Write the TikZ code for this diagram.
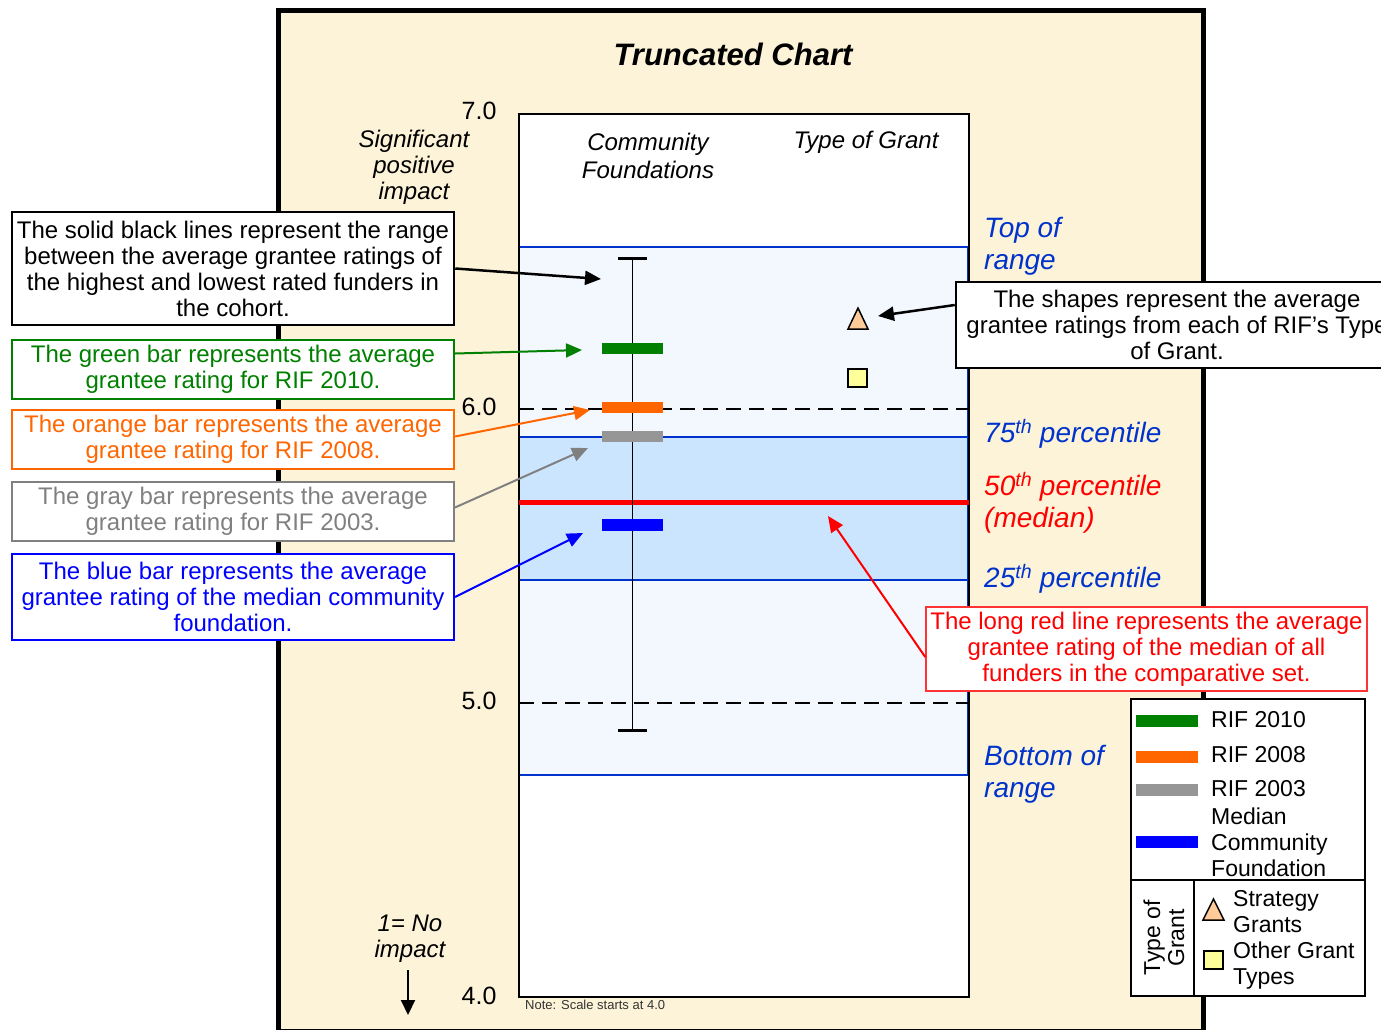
\documentclass[tikz,border=0pt]{standalone}
\usepackage{fontspec}
\setmainfont{Liberation Sans}
\usetikzlibrary{arrows.meta,shapes.geometric}
\definecolor{cream}{RGB}{253,243,216}
\definecolor{bandpale}{RGB}{243,248,255}
\definecolor{bandmid}{RGB}{204,229,255}
\definecolor{bandline}{RGB}{0,51,204}
\definecolor{rifgreen}{RGB}{0,128,0}
\definecolor{riforange}{RGB}{255,102,0}
\definecolor{rifgray}{RGB}{150,150,150}
\definecolor{txtgray}{RGB}{128,128,128}
\definecolor{peach}{RGB}{255,204,153}
\definecolor{paleyellow}{RGB}{255,255,153}
\begin{document}
\begin{tikzpicture}[x=1pt, y=-1pt, >={Triangle[length=16pt,width=14pt]}]
    \tikzstyle{callout} = [rectangle, draw, fill=white, line width=2pt, align=center, inner sep=0pt, minimum width=442pt, font=\fontsize{24}{26}\selectfont]
    \tikzstyle{tick} = [anchor=east, font=\fontsize{25}{28}\selectfont]
    \tikzstyle{sidelabel} = [anchor=west, align=left, inner sep=0pt, font=\itshape\fontsize{28}{32}\selectfont]
    \tikzstyle{legtext} = [anchor=west, align=left, inner sep=0pt, font=\fontsize{23}{26}\selectfont]

    \clip (0,0) rectangle (1381,1029);
    \fill [white] (0,0) rectangle (1381,1029);
    \draw [line width=5pt, fill=cream] (278.5,10.5) rectangle (1203.5,1031);
    \node [font=\bfseries\itshape\fontsize{31}{36}\selectfont] (title) at (733,54) {Truncated Chart};

    % plot area and bands
    \fill [white] (519,114) rectangle (969,997);
    \filldraw [fill=bandpale, draw=bandline, line width=1.5pt] (519,247) rectangle (968,775);
    \filldraw [fill=bandmid, draw=bandline, line width=1.5pt] (519,437) rectangle (968,580);
    \draw [dash pattern=on 15pt off 8pt, line width=2pt] (519,409) -- (969,409);
    \draw [dash pattern=on 15pt off 8pt, line width=2pt] (519,703) -- (969,703);
    \draw [line width=2.5pt] (519,114) -- (519,997) -- (969,997) -- (969,114) -- cycle;
    \draw [white, line width=1pt, dash pattern=on 4pt off 16pt] (530,116) -- (969,116);
    \draw [red, line width=5pt] (519,502) -- (969,502);

    % range and bars
    \draw [line width=1.5pt] (632.5,258) -- (632.5,730);
    \draw [line width=3pt] (618,258) -- (647,258);
    \draw [line width=3pt] (618,730) -- (647,730);
    \fill [rifgreen] (602,343) rectangle (663,354);
    \fill [riforange] (602,402) rectangle (663,413);
    \fill [rifgray] (602,431) rectangle (663,442);
    \fill [blue] (602,519) rectangle (663,531);
    \filldraw [fill=peach, line width=1.5pt] (858,308) -- (868,329) -- (848,329) -- cycle;
    \filldraw [fill=paleyellow, line width=1.5pt] (848,369) rectangle (867,387);

    % axis text
    \node [tick] (t7) at (500,111) {7.0};
    \node [tick] (t6) at (500,407) {6.0};
    \node [tick] (t5) at (500,701) {5.0};
    \node [tick] (t4) at (500,996) {4.0};
    \node [align=center, font=\itshape\fontsize{24}{26}\selectfont] (sig) at (414,167) {Significant\\positive\\impact};
    \node [align=center, font=\itshape\fontsize{24}{26}\selectfont] (noimp) at (410,939) {1= No\\impact};
    \coordinate (noimptip) at (408,1015);
    \draw [->, line width=2pt, >={Triangle[length=15pt,width=14pt]}] (noimp.south) ++(-2,4) -- (noimptip);
    \node [align=center, font=\itshape\fontsize{24}{28}\selectfont] (cf) at (648,156) {Community\\Foundations};
    \node [font=\itshape\fontsize{24}{28}\selectfont] (tg) at (866,142) {Type of Grant};
    \node [anchor=west, inner sep=0pt, text=black!80, font=\fontsize{13}{15}\selectfont] (note) at (525,1005) {Note: Scale starts at 4.0};

    % side labels
    \node [sidelabel, text=bandline] (top) at (984,246) {Top of\\range};
    \node [sidelabel, text=bandline] (p75) at (984,434) {75\textsuperscript{th} percentile};
    \node [sidelabel, text=red] (p50) at (984,503) {50\textsuperscript{th} percentile\\(median)};
    \node [sidelabel, text=bandline] (p25) at (984,579) {25\textsuperscript{th} percentile};
    \node [sidelabel, text=bandline] (bot) at (984,774) {Bottom of\\range};

    % callouts on the left
    \node [callout, minimum height=113pt, line width=2.5pt] (c1) at (233,268.5) {The solid black lines represent the range\\between the average grantee ratings of\\the highest and lowest rated funders in\\the cohort.};
    \node [callout, minimum height=59pt, draw=rifgreen, text=rifgreen] (c2) at (233,369.5) {The green bar represents the average\\grantee rating for RIF 2010.};
    \node [callout, minimum height=59pt, draw=riforange, text=riforange] (c3) at (233,439.5) {The orange bar represents the average\\grantee rating for RIF 2008.};
    \node [callout, minimum height=59pt, draw=txtgray, text=txtgray] (c4) at (233,511.5) {The gray bar represents the average\\grantee rating for RIF 2003.};
    \node [callout, minimum height=86pt, draw=blue, text=blue] (c5) at (233,597) {The blue bar represents the average\\grantee rating of the median community\\foundation.};

    % callouts on the right
    \node [callout, minimum height=86pt, line width=2.5pt] (cs) at (1177,325) {The shapes represent the average\\grantee ratings from each of RIF’s Type\\of Grant.};
    \node [callout, minimum width=441pt, minimum height=84pt, line width=1.5pt, draw=red!80, text=red] (cr) at (1146.5,649) {The long red line represents the average\\grantee rating of the median of all\\funders in the comparative set.};

    % arrow tips
    \coordinate (a1) at (601,279);
    \coordinate (a2) at (582,350);
    \coordinate (a3) at (590,410);
    \coordinate (a4) at (588,448);
    \coordinate (a5) at (583,533);
    \coordinate (as) at (878,316);
    \coordinate (ar) at (828,516);

    \draw [->, line width=2.5pt] (c1.east) -- (a1);
    \draw [->, line width=2pt, rifgreen] ([yshift=16pt]c2.east) -- (a2);
    \draw [->, line width=2pt, riforange] ([yshift=3pt]c3.east) -- (a3);
    \draw [->, line width=2pt, txtgray] ([yshift=4pt]c4.east) -- (a4);
    \draw [->, line width=2pt, blue] (c5.east) -- (a5);
    \draw [->, line width=2.5pt] ([yshift=20pt]cs.west) -- (as);
    \draw [->, line width=2pt, red] ([yshift=-8pt]cr.west) -- (ar);

    % legend
    \filldraw [fill=white, line width=1.5pt] (1131,699) rectangle (1365,996);
    \draw [line width=1.5pt] (1131,880) -- (1365,880);
    \draw [line width=1.5pt] (1194,880) -- (1194,996);
    \fill [rifgreen] (1136,715) rectangle (1198,727);
    \fill [riforange] (1136,751) rectangle (1198,763);
    \fill [rifgray] (1136,784) rectangle (1198,796);
    \fill [blue] (1136,836) rectangle (1198,848);
    \node [legtext] (lg1) at (1211,720) {RIF 2010};
    \node [legtext] (lg2) at (1211,755) {RIF 2008};
    \node [legtext] (lg3) at (1211,789) {RIF 2003};
    \node [legtext] (lg4) at (1211,842) {Median\\Community\\Foundation};
    \node [align=center, rotate=90, inner sep=0pt, font=\fontsize{23}{24}\selectfont] (lgt) at (1164,938) {Type of\\Grant};
    \filldraw [fill=peach, line width=1.5pt] (1213.5,899) -- (1224,920) -- (1203,920) -- cycle;
    \filldraw [fill=paleyellow, line width=1.5pt] (1204,951) rectangle (1223,969);
    \node [legtext] (lg5) at (1233,912) {Strategy\\Grants};
    \node [legtext] (lg6) at (1233,966) {Other Grant\\Types};
\end{tikzpicture}
\end{document}
